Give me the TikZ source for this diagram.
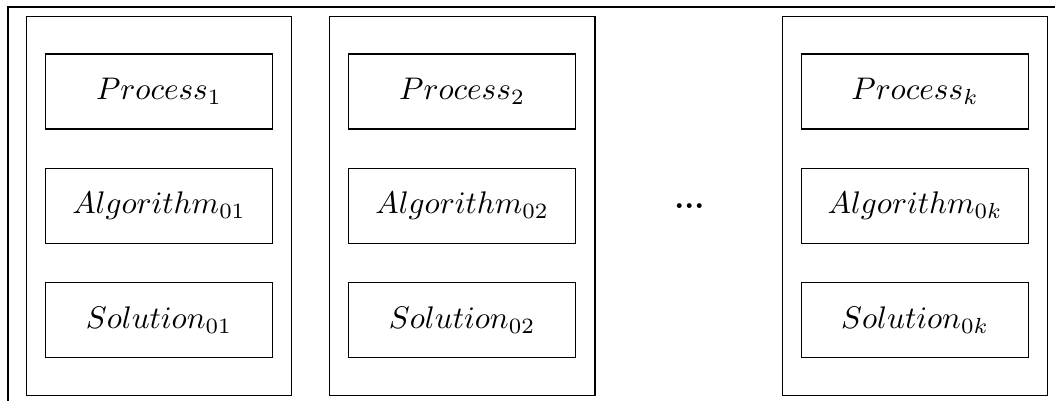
\documentclass[tikz,border=0pt]{standalone}
\usetikzlibrary{positioning,fit}

\begin{document}
\begin{tikzpicture}[
    x=0.32pt, y=0.32pt,
    node distance=12.2pt and 23.8pt,
    every node/.style={font=\normalsize},
    task/.style={rectangle, draw=black, minimum width=72.8pt, minimum height=24pt, align=center},
    group/.style={rectangle, draw=black, inner xsep=5.9pt, inner ysep=11.8pt},
]
\clip (0,0) rectangle (1055,401);
% MARCO EXTERIOR
\draw (8,-30) rectangle (1090,394);

% COLUMNA 1
\node[task] (p1) at (159,309.5) {$Process_1$};
\node[task, below=of p1] (a1) {$Algorithm_{01}$};
\node[task, below=of a1] (s1) {$Solution_{01}$};
% COLUMNA 2
\node[task, right=of p1] (p2) {$Process_2$};
\node[task, below=of p2] (a2) {$Algorithm_{02}$};
\node[task, below=of a2] (s2) {$Solution_{02}$};
% PUNTOS
\node[right=27.8pt of a2] (dots) {\textbf{...}};
% COLUMNA K
\node[task, right=27.3pt of dots] (a3) {$Algorithm_{0k}$};
\node[task, above=of a3] (p3) {$Process_k$};
\node[task, below=of a3] (s3) {$Solution_{0k}$};

% GRUPOS (marco alrededor)
\node[group, fit=(p1)(s1)] (g1) {};
\node[group, fit=(p2)(s2)] (g2) {};
\node[group, fit=(p3)(s3)] (g3) {};

\end{tikzpicture}
\end{document}
